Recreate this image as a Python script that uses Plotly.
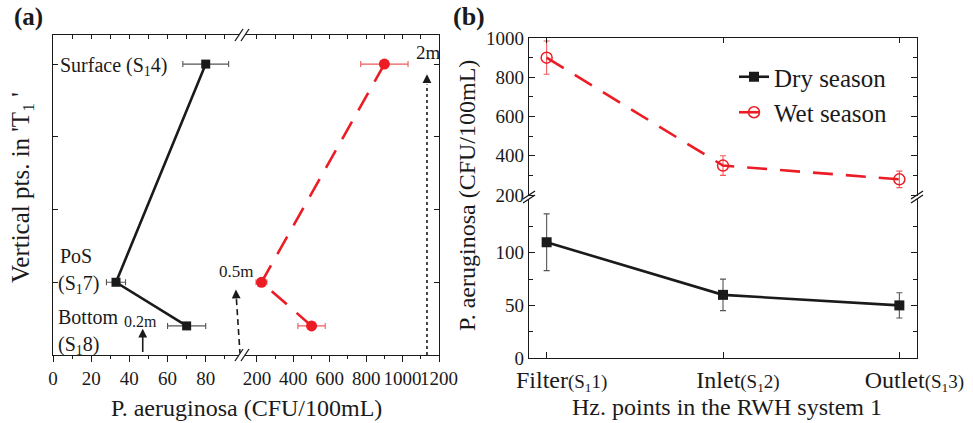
import plotly.graph_objects as go

W, H = 973, 423
FONT = "Liberation Serif"
INK = "#1a1a1a"
RED = "#ec1c24"

# ---- panel (a): vertical profile in tank T1 ----
depth_m = [2.0, 0.5, 0.2]            # Surface (S14), PoS (S17), Bottom (S18)
dry_a = [80, 33, 70]
dry_a_err = [12, 5, 10]
wet_a = [900, 225, 500]
wet_a_err = [130, 30, 75]

# ---- panel (b): horizontal points in RWH system 1 ----
points_b = [0, 1, 2]
point_labels = ["Filter", "Inlet", "Outlet"]
point_codes = ["1", "2", "3"]
dry_b = [110, 60, 50]
dry_b_err = [27, 15, 12]
wet_b = [900, 350, 280]
wet_b_err = [85, 50, 42]


def px(x):
    return x / W


def py(y):
    return 1 - y / H


fig = go.Figure()

# panel (a) traces
fig.add_trace(go.Scatter(
    x=dry_a, y=depth_m, xaxis="x", yaxis="y", mode="lines+markers",
    line=dict(color=INK, width=2.6),
    marker=dict(symbol="square", size=9, color=INK),
    error_x=dict(type="data", array=dry_a_err, color="#555555", thickness=1.1, width=3),
    showlegend=False))
fig.add_trace(go.Scatter(
    x=wet_a, y=depth_m, xaxis="x2", yaxis="y", mode="lines+markers",
    line=dict(color=RED, width=2.6, dash="20px,13px"),
    marker=dict(symbol="circle", size=11, color=RED),
    error_x=dict(type="data", array=wet_a_err, color="#f05a5a", thickness=1.1, width=3),
    showlegend=False))
# transparent copies so the top/right frame axes of panel (a) get drawn
fig.add_trace(go.Scatter(x=dry_a, y=depth_m, xaxis="x3", yaxis="y", mode="markers",
                         marker=dict(opacity=0), hoverinfo="skip", showlegend=False))
fig.add_trace(go.Scatter(x=wet_a, y=depth_m, xaxis="x4", yaxis="y4", mode="markers",
                         marker=dict(opacity=0), hoverinfo="skip", showlegend=False))

# panel (b) traces
fig.add_trace(go.Scatter(
    x=points_b, y=dry_b, xaxis="x5", yaxis="y2", mode="lines+markers",
    name="Dry season",
    line=dict(color=INK, width=2.6),
    marker=dict(symbol="square", size=10, color=INK),
    error_y=dict(type="data", array=dry_b_err, color="#555555", thickness=1.1, width=3)))
fig.add_trace(go.Scatter(
    x=points_b, y=wet_b, xaxis="x6", yaxis="y3", mode="lines+markers",
    name="Wet season",
    line=dict(color=RED, width=2.6, dash="20px,13px"),
    marker=dict(symbol="circle-open", size=11, color=RED, line=dict(width=1.5, color=RED)),
    error_y=dict(type="data", array=wet_b_err, color="#f05a5a", thickness=1.1, width=3)))

tickfont = dict(family=FONT, size=19, color=INK)
axline = dict(showline=True, linecolor=INK, linewidth=1.3, showgrid=False, zeroline=False,
              tickcolor=INK, tickfont=tickfont, tickangle=0, automargin=False)

ya_dom = [py(355), py(35)]
yb_bot = [py(358), py(197)]
yb_top = [py(197), py(38)]
xb_dom = [px(529), px(917)]

fig.update_layout(
    width=W, height=H, autosize=False, margin=dict(l=0, r=0, t=0, b=0, pad=0, autoexpand=False),
    plot_bgcolor="white", paper_bgcolor="white",
    font=dict(family=FONT, color=INK),
    xaxis=dict(domain=[px(53), px(242)], range=[0, 99], anchor="y",
               tick0=0, dtick=20, ticks="outside", ticklen=6,
               minor=dict(ticks="outside", dtick=10, ticklen=3, tickcolor=INK), **axline),
    xaxis2=dict(domain=[px(242), px(439)], range=[118, 1200], anchor="y",
                tick0=0, dtick=200, ticks="outside", ticklen=6,
                minor=dict(ticks="outside", dtick=100, ticklen=3, tickcolor=INK), **axline),
    xaxis3=dict(overlaying="x", side="top", anchor="y", range=[0, 99],
                tick0=0, dtick=10, ticks="inside", ticklen=4, showticklabels=False, **axline),
    xaxis4=dict(overlaying="x2", side="top", anchor="y", range=[118, 1200],
                tick0=0, dtick=100, ticks="inside", ticklen=4, showticklabels=False, **axline),
    yaxis=dict(domain=ya_dom, range=[0, 2.2], anchor="x",
               tickvals=[0.5, 1.0, 1.5, 2.0], ticks="inside", ticklen=5,
               showticklabels=False, **axline),
    yaxis4=dict(overlaying="y", side="right", anchor="x2", range=[0, 2.2],
                tickvals=[0.5, 1.0, 1.5, 2.0], ticks="inside", ticklen=5,
                showticklabels=False, **axline),
    xaxis5=dict(domain=xb_dom, range=[-0.1, 2.1], anchor="y2",
                tickvals=points_b,
                ticktext=[f"{n}<span style='font-size:19px'>(S<sub>1</sub>{c})</span>"
                          for n, c in zip(point_labels, point_codes)],
                ticks="inside", ticklen=6, ticklabelshift=15,
                **{**axline, "tickfont": dict(family=FONT, size=24, color=INK)}),
    xaxis6=dict(domain=xb_dom, range=[-0.1, 2.1], anchor="y3", side="top",
                tickvals=points_b, ticks="inside", ticklen=5, showticklabels=False, **axline),
    yaxis2=dict(domain=yb_bot, range=[0, 153], anchor="x5",
                tickvals=[0, 50, 100], ticks="inside", ticklen=6, mirror="ticks",
                minor=dict(ticks="inside", tickvals=[25, 75, 125], ticklen=4, tickcolor=INK),
                **axline),
    yaxis3=dict(domain=yb_top, range=[190, 1000], anchor="x6",
                tick0=0, dtick=200, ticks="inside", ticklen=6, mirror="ticks",
                minor=dict(ticks="inside", dtick=100, ticklen=4, tickcolor=INK), **axline),
    legend=dict(x=px(734), y=py(54), xanchor="left", yanchor="top",
                bgcolor="rgba(0,0,0,0)", font=dict(family=FONT, size=25, color=INK),
                tracegroupgap=0, itemwidth=30),
)

ann = []


def text(x, y, s, size, xanchor="center", angle=0):
    ann.append(dict(x=px(x), y=py(y), xref="paper", yref="paper", text=s, showarrow=False,
                    xanchor=xanchor, yanchor="middle", textangle=angle,
                    font=dict(family=FONT, size=size, color=INK)))


text(28, 17, "<b>(a)</b>", 25)
text(469, 17, "<b>(b)</b>", 26)
text(246, 408, "P. aeruginosa (CFU/100mL)", 24)
text(727, 407, "Hz. points in the RWH system 1", 24)
text(22, 188, "Vertical pts. in 'T<sub>1</sub> '", 25, angle=-90)
text(467, 196, "P. aeruginosa (CFU/100mL)", 24, angle=-90)

# point names in panel (a)
text(58, 66, "Surface (S<sub>1</sub>4)", 20, xanchor="left")
text(58, 256, "PoS", 20, xanchor="left")
text(56, 284, "(S<sub>1</sub>7)", 20, xanchor="left")
text(56, 317, "Bottom", 20, xanchor="left")
text(56, 345, "(S<sub>1</sub>8)", 20, xanchor="left")

# depth markers
text(140, 321, "0.2m", 16)
text(236, 271, "0.5m", 17)
text(428, 53, "2m", 19)

shapes = []
# 0.2 m arrow (solid)
ann.append(dict(x=47, y=0.18, xref="x", yref="y", ax=47, ay=0.01, axref="x", ayref="y",
                showarrow=True, arrowhead=2, arrowsize=1.1, arrowwidth=1.6, arrowcolor=INK, text=""))
# 0.5 m arrow (dashed shaft)
shapes.append(dict(type="line", xref="x", yref="y", x0=98, y0=0.0, x1=96, y1=0.40,
                   line=dict(color=INK, width=1.6, dash="6px,4px")))
ann.append(dict(x=95.8, y=0.45, xref="x", yref="y", ax=96, ay=0.38, axref="x", ayref="y",
                showarrow=True, arrowhead=2, arrowsize=1.1, arrowwidth=1.6, arrowcolor=INK, text=""))
# 2 m arrow (dotted shaft)
shapes.append(dict(type="line", xref="x2", yref="y", x0=1134, y0=0.0, x1=1134, y1=1.86,
                   line=dict(color=INK, width=1.6, dash="dot")))
ann.append(dict(x=1134, y=1.93, xref="x2", yref="y", ax=1134, ay=1.86, axref="x2", ayref="y",
                showarrow=True, arrowhead=2, arrowsize=1.1, arrowwidth=1.6, arrowcolor=INK, text=""))


def slash(x, y, dx=4, dy=6):
    shapes.append(dict(type="line", xref="paper", yref="paper",
                       x0=px(x - dx), y0=py(y + dy), x1=px(x + dx), y1=py(y - dy),
                       line=dict(color=INK, width=1.3)))


def gap(x0, y0, x1, y1):
    shapes.append(dict(type="rect", xref="paper", yref="paper", x0=px(x0), y0=py(y1),
                       x1=px(x1), y1=py(y0), fillcolor="white", line=dict(width=0), layer="above"))


# axis breaks, panel (a)
for yy in (355, 35):
    gap(239, yy - 2, 245, yy + 2)
    slash(239, yy)
    slash(245, yy)
# axis breaks, panel (b)
for xx in (529, 917):
    gap(xx - 2, 196, xx + 2, 199)
    slash(xx, 199, dx=6, dy=4)
    slash(xx, 195, dx=6, dy=4)

fig.update_layout(annotations=ann, shapes=shapes)
fig.write_html("out.html")
